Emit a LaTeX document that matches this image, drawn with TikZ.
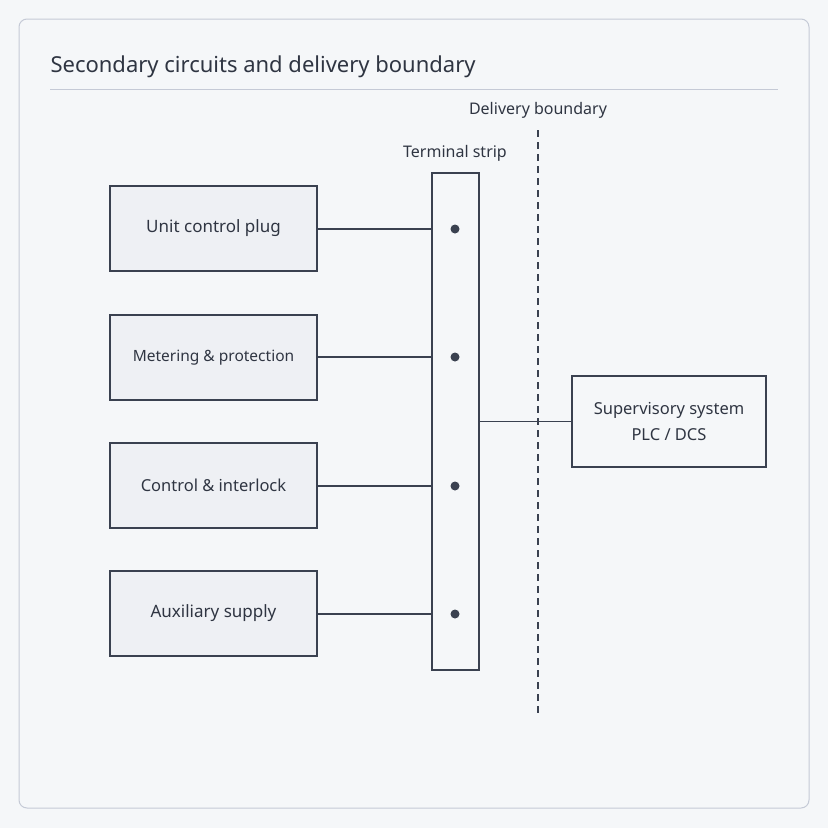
\documentclass[tikz,border=0pt]{standalone}
\usepackage{fontspec}
\setmainfont{Noto Sans}
\usetikzlibrary{positioning}
\definecolor{pagebg}{HTML}{F5F7F9}
\definecolor{framec}{HTML}{C5CAD6}
\definecolor{boxfill}{HTML}{EEF0F4}
\definecolor{inkc}{HTML}{3A4150}
\definecolor{textc}{HTML}{2F3542}
\newcommand{\lowered}[1]{\raisebox{-2pt}{#1}}
\begin{document}
\begin{tikzpicture}[x=1pt,y=-1pt,
  unit box/.style={draw=inkc,fill=boxfill,line width=1.2pt,minimum width=207pt,minimum height=85pt,inner sep=0pt,font=\fontsize{17}{20}\selectfont,text=textc},
  lbl/.style={font=\fontsize{16}{19}\selectfont,text=textc},
  wire/.style={draw=inkc,line width=1.1pt}]
  \fill[pagebg] (0,0) rectangle (828,828);
  \draw[framec,line width=1pt,fill=pagebg,rounded corners=8pt] (19,19) rectangle (809,808);
  \node[anchor=west,font=\fontsize{22}{26}\selectfont,text=textc] (title) at (47,67) {Secondary circuits and delivery boundary};
  \draw[framec,line width=1pt] (50,89) -- (778,89);
  % terminal strip
  \node[draw=inkc,line width=1.2pt,fill=pagebg,minimum width=47pt,minimum height=497pt,inner sep=0pt] (strip) at (455.5,421.5) {};
  \node[lbl] (striplbl) at (455,153) {Terminal strip};
  % boundary
  \coordinate (btop) at (538,130);
  \coordinate (bbot) at (538,716);
  \draw[inkc,line width=1.1pt,dash pattern=on 7pt off 5pt] (btop) -- (bbot);
  \node[lbl] (boundlbl) at (538,110) {Delivery boundary};
  % circuits
  \node[unit box] (plug) at (213.5,228.5) {\lowered{Unit control plug}};
  \node[unit box,font=\fontsize{15.5}{18}\selectfont] (meter) at (213.5,357.5) {\lowered{Metering \& protection}};
  \node[unit box,font=\fontsize{16.5}{19}\selectfont] (ctrl) at (213.5,485.5) {\lowered{Control \& interlock}};
  \node[unit box] (aux) at (213.5,613.5) {\lowered{Auxiliary supply}};
  \foreach \n/\y in {plug/229,meter/357,ctrl/486,aux/614}{
    \coordinate (t-\n) at (455,\y);
    \fill[inkc] (t-\n) circle (4.5pt);
    \draw[wire] (\n.west |- t-\n) ++(207,0) -- (t-\n -| strip.west);
  }
  \node[unit box,minimum width=194pt,minimum height=91pt,align=center,font=\fontsize{16.5}{28}\selectfont,fill=pagebg] (sup) at (669,421.5) {\lowered{Supervisory system}\\PLC / DCS};
  \draw[wire] (strip.east) -- (strip.east -| sup.west);
\end{tikzpicture}
\end{document}
